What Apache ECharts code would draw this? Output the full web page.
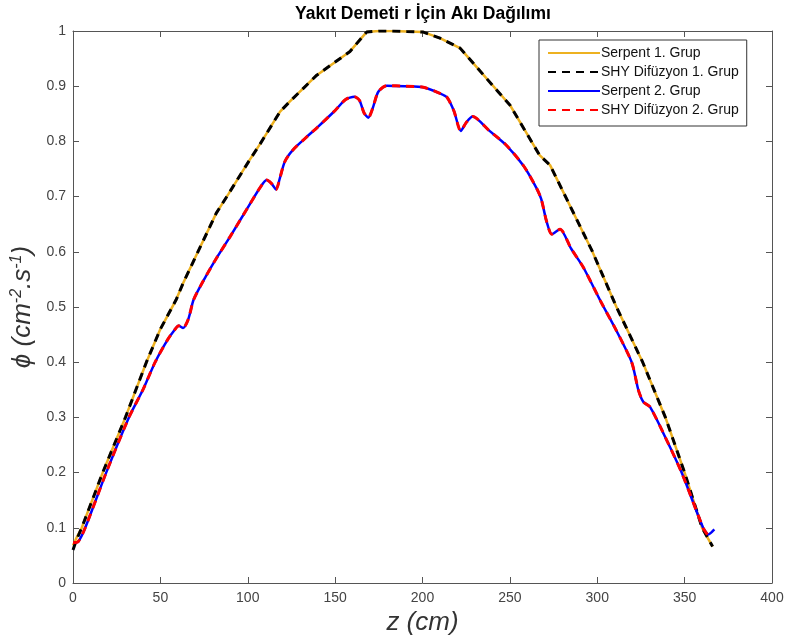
<!DOCTYPE html>
<html>
<head>
<meta charset="utf-8">
<script src="https://cdn.jsdelivr.net/npm/echarts@6/dist/echarts.min.js"></script>
<style>
html,body{margin:0;padding:0;background:#fff;}
#chart{width:787px;height:638px;}
</style>
</head>
<body>
<div id="chart"></div>
<script>
// ---- data ----
const xTicks = [0, 50, 100, 150, 200, 250, 300, 350, 400];
const yTicks = [0, 0.1, 0.2, 0.3, 0.4, 0.5, 0.6, 0.7, 0.8, 0.9, 1];

const z1 = [0, 2, 5, 17, 30, 42, 50, 59, 63, 70, 82, 89, 101, 107, 118.5, 124, 139.5, 158.5, 168, 175, 182, 191, 200.5, 210, 221.5, 235, 250, 267, 273, 297, 311, 326, 339, 350, 360, 366];
const serpent1 = [0.068, 0.082, 0.1, 0.2, 0.3, 0.4, 0.46, 0.513, 0.543, 0.59, 0.67, 0.705, 0.766, 0.795, 0.854, 0.872, 0.92, 0.963, 0.998, 1.0, 1.0, 0.999, 0.998, 0.987, 0.969, 0.92, 0.866, 0.775, 0.757, 0.602, 0.5, 0.4, 0.3, 0.2, 0.1, 0.066];
const shy1 = [0.06, 0.078, 0.1, 0.2, 0.3, 0.4, 0.46, 0.513, 0.543, 0.59, 0.67, 0.705, 0.766, 0.795, 0.854, 0.872, 0.92, 0.963, 0.998, 1.0, 1.0, 0.999, 0.998, 0.987, 0.969, 0.92, 0.866, 0.775, 0.757, 0.602, 0.5, 0.4, 0.3, 0.2, 0.1, 0.066];

const z2 = [0, 3, 7, 19, 32, 40, 47, 54, 58, 60.5, 63, 66, 69, 74.5, 82, 90, 100, 107, 110.8, 113.5, 116.2, 118.5, 121.3, 126, 133, 140, 150, 156, 161, 164, 166.5, 169, 171.5, 174.7, 179.5, 190, 200.5, 210, 214, 218, 221.9, 225, 228.7, 238, 248, 258, 265.3, 268, 271, 274, 278.7, 285, 292, 302, 310, 319.7, 323.5, 326.4, 330.2, 338.8, 348.3, 360.6, 363.6, 367];
const serpent2 = [0.073, 0.075, 0.1, 0.2, 0.3, 0.35, 0.4, 0.44, 0.458, 0.466, 0.462, 0.478, 0.513, 0.547, 0.588, 0.628, 0.68, 0.716, 0.73, 0.724, 0.713, 0.735, 0.764, 0.785, 0.806, 0.826, 0.856, 0.876, 0.881, 0.874, 0.852, 0.843, 0.86, 0.89, 0.901, 0.9, 0.898, 0.887, 0.88, 0.855, 0.819, 0.834, 0.845, 0.82, 0.793, 0.755, 0.715, 0.695, 0.655, 0.632, 0.641, 0.606, 0.572, 0.51, 0.463, 0.4, 0.35, 0.328, 0.319, 0.265, 0.2, 0.1, 0.088, 0.097];
const shy2 = [0.073, 0.075, 0.1, 0.2, 0.3, 0.35, 0.4, 0.44, 0.458, 0.466, 0.462, 0.478, 0.513, 0.547, 0.588, 0.628, 0.68, 0.716, 0.73, 0.724, 0.713, 0.735, 0.764, 0.785, 0.806, 0.826, 0.856, 0.876, 0.881, 0.874, 0.852, 0.843, 0.86, 0.89, 0.901, 0.9, 0.898, 0.887, 0.88, 0.855, 0.819, 0.834, 0.845, 0.82, 0.793, 0.755, 0.715, 0.695, 0.655, 0.632, 0.641, 0.606, 0.572, 0.51, 0.463, 0.4, 0.35, 0.328, 0.319, 0.265, 0.2, 0.1, 0.085, null];

const seriesNames = ['Serpent 1. Grup', 'SHY Difüzyon 1. Grup', 'Serpent 2. Grup', 'SHY Difüzyon 2. Grup'];
const titleText = 'Yakıt Demeti r İçin Akı Dağılımı';

// ---- chart ----
const pairs = (xs, ys) => xs.map((x, i) => [x, ys[i]]);
const FONT = '"Liberation Sans", Arial, Helvetica, sans-serif';
const axisGray = '#555';
const labelGray = '#444';

const chart = echarts.init(document.getElementById('chart'), null, {renderer: 'canvas'});

const baseX = {
  type: 'value', min: 0, max: 400, interval: 50,
  axisLine: {show: true, onZero: false, lineStyle: {color: axisGray, width: 1}},
  axisTick: {show: true, inside: true, length: 6, lineStyle: {color: axisGray}},
  splitLine: {show: false}
};
const baseY = {
  type: 'value', min: 0, max: 1, interval: 0.1,
  axisLine: {show: true, onZero: false, lineStyle: {color: axisGray, width: 1}},
  axisTick: {show: true, inside: true, length: 6, lineStyle: {color: axisGray}},
  splitLine: {show: false}
};

chart.setOption({
  backgroundColor: '#fff',
  animation: false,
  textStyle: {fontFamily: FONT},
  graphic: [{
    type: 'text', x: 423, y: 14,
    style: {text: titleText, font: 'bold 17.5px ' + FONT, fill: '#000', align: 'center', verticalAlign: 'middle'}
  }],
  grid: {left: 73, right: 15, top: 31, bottom: 55, containLabel: false, outerBoundsMode: 'none'},
  legend: {
    orient: 'vertical', left: 539, top: 40,
    data: seriesNames,
    itemWidth: 52, itemHeight: 14, itemGap: 5,
    padding: [6, 8, 9, 8],
    backgroundColor: '#fff', borderColor: '#333', borderWidth: 1,
    itemStyle: {opacity: 0},
    textStyle: {fontSize: 14, color: '#111', fontFamily: FONT, padding: [0, 0, 0, -4]}
  },
  xAxis: [
    Object.assign({}, baseX, {
      position: 'bottom',
      axisLabel: {show: true, fontSize: 14, color: labelGray, margin: 8,
        formatter: v => xTicks.includes(v) ? String(v) : ''},
      name: 'z (cm)', nameLocation: 'middle', nameGap: 25,
      nameTextStyle: {fontSize: 26, fontStyle: 'italic', color: '#333', fontFamily: FONT}
    }),
    Object.assign({}, baseX, {position: 'top', axisLabel: {show: false}})
  ],
  yAxis: [
    Object.assign({}, baseY, {
      position: 'left',
      axisLabel: {show: true, fontSize: 14, color: labelGray, margin: 7,
        formatter: v => { const t = yTicks.find(y => Math.abs(y - v) < 1e-9); return t === undefined ? '' : String(t); }},
      name: '{i|ϕ (cm}{s|-2}{i|.s}{s|-1}{i|)}', nameLocation: 'middle', nameGap: 30,
      nameTextStyle: {
        color: '#333', fontFamily: FONT,
        rich: {
          i: {fontSize: 26, fontStyle: 'italic', color: '#333', fontFamily: FONT},
          s: {fontSize: 16, fontStyle: 'italic', color: '#333', fontFamily: FONT, verticalAlign: 'top', padding: [0, 0, 12, 0]}
        }
      }
    }),
    Object.assign({}, baseY, {position: 'right', axisLabel: {show: false}})
  ],
  series: [
    {name: seriesNames[0], type: 'line', xAxisIndex: 0, yAxisIndex: 0, data: pairs(z1, serpent1),
     showSymbol: false, symbol: 'none', smooth: false,
     lineStyle: {color: '#EDB120', width: 2.5}, itemStyle: {color: '#EDB120'}},
    {name: seriesNames[1], type: 'line', xAxisIndex: 0, yAxisIndex: 0, data: pairs(z1, shy1),
     showSymbol: false, symbol: 'none', smooth: false,
     lineStyle: {color: '#000', width: 3, type: [8, 6]}, itemStyle: {color: '#000'}},
    {name: seriesNames[2], type: 'line', xAxisIndex: 0, yAxisIndex: 0, data: pairs(z2, serpent2),
     showSymbol: false, symbol: 'none', smooth: 0.25,
     lineStyle: {color: '#0000FF', width: 2.5}, itemStyle: {color: '#0000FF'}},
    {name: seriesNames[3], type: 'line', xAxisIndex: 0, yAxisIndex: 0, data: pairs(z2, shy2),
     showSymbol: false, symbol: 'none', smooth: 0.25,
     lineStyle: {color: '#FF0000', width: 3, type: [8, 6]}, itemStyle: {color: '#FF0000'}}
  ]
});
</script>
</body>
</html>
